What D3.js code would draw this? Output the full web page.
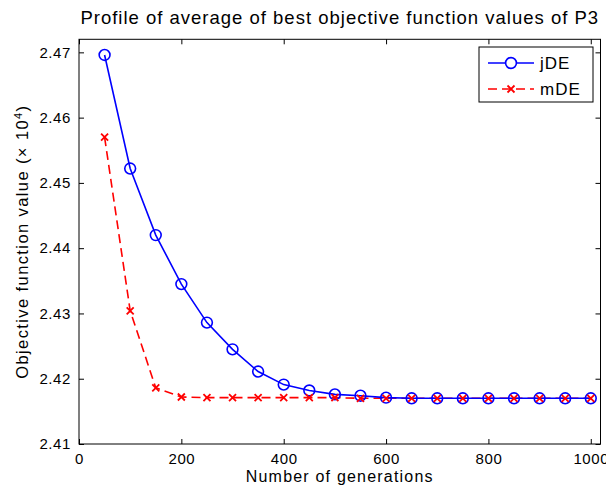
<!DOCTYPE html>
<html>
<head>
<meta charset="utf-8">
<script src="https://cdn.jsdelivr.net/npm/d3@7"></script>
<style>
  body { margin: 0; background: #fff; }
  text { font-family: 'Liberation Sans', Arial, sans-serif; fill: #000; }
</style>
</head>
<body>
<div id="draw"></div>
<script>
// data (objective values in units of 10^4)
const generations = [50, 100, 150, 200, 250, 300, 350, 400, 450, 500, 550, 600, 650, 700, 750, 800, 850, 900, 950, 1000];
const jdeValues = [2.4696, 2.4522, 2.4420, 2.4345, 2.4286, 2.4245, 2.4211, 2.4191, 2.4182, 2.4176, 2.4174, 2.4171, 2.4170, 2.4170, 2.4170, 2.4170, 2.4170, 2.4170, 2.4170, 2.4170];
const mdeValues = [2.4570, 2.4304, 2.4186, 2.4172, 2.4171, 2.4171, 2.4171, 2.4171, 2.4171, 2.4171, 2.4170, 2.4170, 2.4170, 2.4170, 2.4170, 2.4170, 2.4170, 2.4170, 2.4170, 2.4170];
const xTicks = [0, 200, 400, 600, 800, 1000];
const yTicks = [2.41, 2.42, 2.43, 2.44, 2.45, 2.46, 2.47];
const seriesNames = ['jDE', 'mDE'];

const W = 606, H = 493;
const margin = { top: 39.3, right: 5.5, bottom: 49, left: 79 };
const width = W - margin.left - margin.right,
  height = H - margin.top - margin.bottom;

const svg = d3.select('#draw').append('svg')
  .attr('width', W).attr('height', H);

const g = svg.append('g')
  .attr('transform', 'translate(' + margin.left + ',' + margin.top + ')');

const x = d3.scaleLinear().domain([0, 1019]).range([0, width]);
const y = d3.scaleLinear().domain([2.41, 2.472]).range([height, 0]);

// axes with inside ticks, mirrored on top and right
g.append('g')
  .attr('transform', 'translate(0,' + height + ')')
  .call(d3.axisBottom(x).tickValues(xTicks).tickSize(-5).tickPadding(9).tickFormat(d3.format('d')))
  .call(a => a.select('.domain').remove())
  .selectAll('text').style('font-size', '15px').style('letter-spacing', '0.6px');

g.append('g')
  .call(d3.axisTop(x).tickValues(xTicks).tickSize(-5).tickFormat(''))
  .call(a => a.select('.domain').remove());

g.append('g')
  .call(d3.axisLeft(y).tickValues(yTicks).tickSize(-5).tickPadding(8).tickFormat(d3.format('.2f')))
  .call(a => a.select('.domain').remove())
  .selectAll('text').style('font-size', '15px').style('letter-spacing', '0.6px');

g.append('g')
  .attr('transform', 'translate(' + width + ',0)')
  .call(d3.axisRight(y).tickValues(yTicks).tickSize(-5).tickFormat(''))
  .call(a => a.select('.domain').remove());

g.selectAll('.tick line').attr('stroke', '#000');

g.append('rect')
  .attr('width', width).attr('height', height)
  .attr('fill', 'none').attr('stroke', '#000').attr('stroke-width', 1);

// lines
const line = d3.line()
  .x((d, i) => x(generations[i]))
  .y(d => y(d));

g.append('path')
  .datum(mdeValues)
  .attr('fill', 'none').attr('stroke', '#ff0000').attr('stroke-width', 1.6)
  .attr('stroke-dasharray', '9,5')
  .attr('d', line);

g.append('path')
  .datum(jdeValues)
  .attr('fill', 'none').attr('stroke', '#0000ff').attr('stroke-width', 1.6)
  .attr('d', line);

const crossPath = 'M-3.5,-3.5L3.5,3.5M-3.5,3.5L3.5,-3.5';

g.selectAll('.jde')
  .data(jdeValues).enter().append('circle')
  .attr('class', 'jde')
  .attr('cx', (d, i) => x(generations[i]))
  .attr('cy', d => y(d))
  .attr('r', 5.4)
  .attr('fill', 'none').attr('stroke', '#0000ff').attr('stroke-width', 1.6);

g.selectAll('.mde')
  .data(mdeValues).enter().append('path')
  .attr('class', 'mde')
  .attr('transform', (d, i) => 'translate(' + x(generations[i]) + ',' + y(d) + ')')
  .attr('d', crossPath)
  .attr('fill', 'none').attr('stroke', '#ff0000').attr('stroke-width', 1.8);

// title and axis labels
svg.append('text')
  .attr('x', margin.left + width / 2).attr('y', 24)
  .attr('text-anchor', 'middle')
  .style('font-size', '18.5px').style('letter-spacing', '1px')
  .text('Profile of average of best objective function values of P3');

svg.append('text')
  .attr('x', margin.left + width / 2).attr('y', 482)
  .attr('text-anchor', 'middle')
  .style('font-size', '16px').style('letter-spacing', '1.2px')
  .text('Number of generations');

const yl = svg.append('text')
  .attr('transform', 'translate(28,' + (margin.top + height / 2) + ') rotate(-90)')
  .attr('text-anchor', 'middle')
  .style('font-size', '16.5px').style('letter-spacing', '1.4px');
yl.append('tspan').text('Objective function value (\u00d7 10');
yl.append('tspan').attr('dy', -6).style('font-size', '11px').text('4');
yl.append('tspan').attr('dy', 6).text(')');

// legend
const lg = svg.append('g').attr('transform', 'translate(479,47)');
lg.append('rect').attr('width', 114).attr('height', 55)
  .attr('fill', '#fff').attr('stroke', '#000').attr('stroke-width', 1);

lg.append('line').attr('x1', 9).attr('x2', 55).attr('y1', 16).attr('y2', 16)
  .attr('stroke', '#0000ff').attr('stroke-width', 1.6);
lg.append('circle').attr('cx', 32).attr('cy', 16).attr('r', 5.4)
  .attr('fill', '#fff').attr('stroke', '#0000ff').attr('stroke-width', 1.6);

lg.append('line').attr('x1', 9).attr('x2', 55).attr('y1', 42).attr('y2', 42)
  .attr('stroke', '#ff0000').attr('stroke-width', 1.6).attr('stroke-dasharray', '9,5');
lg.append('path').attr('transform', 'translate(32,42)').attr('d', crossPath)
  .attr('fill', 'none').attr('stroke', '#ff0000').attr('stroke-width', 1.8);

lg.selectAll('.lt')
  .data(seriesNames).enter().append('text')
  .attr('x', 61).attr('y', (d, i) => 22 + i * 26)
  .style('font-size', '17px').style('letter-spacing', '1px')
  .text(d => d);
</script>
</body>
</html>
